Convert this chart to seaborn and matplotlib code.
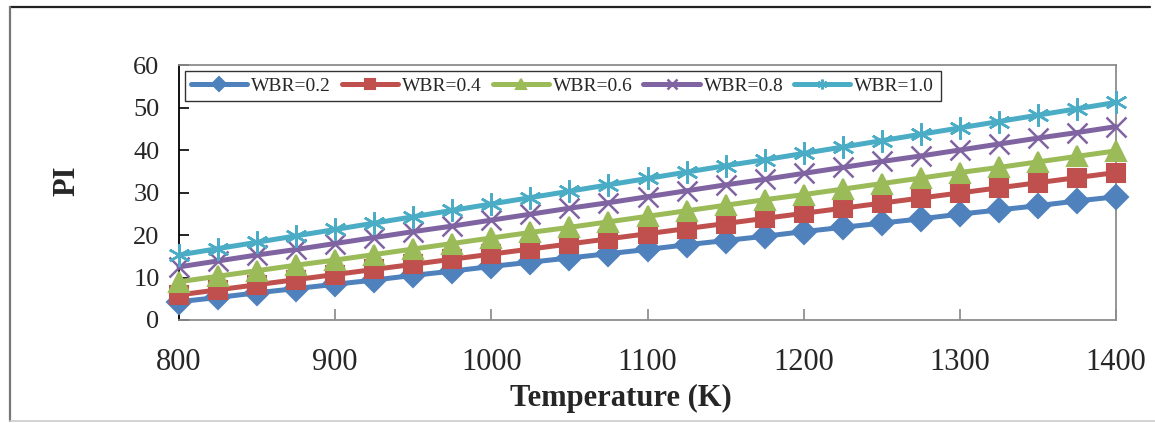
import matplotlib
matplotlib.use("Agg")
import matplotlib.pyplot as plt
from matplotlib.lines import Line2D
import seaborn as sns
import pandas as pd

temperature = [800, 825, 850, 875, 900, 925, 950, 975, 1000, 1025, 1050, 1075, 1100,
               1125, 1150, 1175, 1200, 1225, 1250, 1275, 1300, 1325, 1350, 1375, 1400]
wbr_02 = [4.3, 5.3, 6.4, 7.4, 8.4, 9.4, 10.5, 11.5, 12.6, 13.6, 14.6, 15.6, 16.6,
          17.7, 18.7, 19.7, 20.8, 21.8, 22.8, 23.8, 24.9, 25.9, 26.9, 28.0, 29.0]
wbr_04 = [5.9, 7.1, 8.3, 9.5, 10.7, 11.9, 13.1, 14.3, 15.5, 16.7, 17.9, 19.1, 20.3,
          21.5, 22.7, 23.9, 25.1, 26.3, 27.5, 28.7, 29.9, 31.1, 32.3, 33.5, 34.7]
wbr_06 = [9.0, 10.3, 11.6, 12.9, 14.1, 15.4, 16.7, 18.0, 19.3, 20.6, 21.8, 23.1, 24.4,
          25.7, 27.0, 28.3, 29.5, 30.8, 32.1, 33.4, 34.7, 35.9, 37.2, 38.5, 39.8]
wbr_08 = [12.5, 13.9, 15.3, 16.6, 18.0, 19.4, 20.8, 22.1, 23.5, 24.9, 26.3, 27.6, 29.0,
          30.4, 31.8, 33.1, 34.5, 35.9, 37.3, 38.6, 40.0, 41.4, 42.8, 44.1, 45.5]
wbr_10 = [15.3, 16.8, 18.3, 19.8, 21.3, 22.8, 24.3, 25.8, 27.3, 28.8, 30.3, 31.8, 33.3,
          34.8, 36.3, 37.7, 39.2, 40.7, 42.2, 43.7, 45.2, 46.7, 48.2, 49.7, 51.2]
series_labels = ["WBR=0.2", "WBR=0.4", "WBR=0.6", "WBR=0.8", "WBR=1.0"]
x_ticks = [800, 900, 1000, 1100, 1200, 1300, 1400]
y_ticks = [0, 10, 20, 30, 40, 50, 60]

series_values = [wbr_02, wbr_04, wbr_06, wbr_08, wbr_10]
colors = ["#4F81BD", "#C0504D", "#9BBB59", "#8064A2", "#4BACC6"]
markers = ["D", "s", "^", "x", (6, 2, 0)]
msizes = [12, 13, 14, 14, 16]
mews = [1.5, 1.5, 1.5, 1.8, 1.8]

sns.set_theme(style="white")
plt.rcParams["font.family"] = ["Liberation Serif", "DejaVu Serif"]

fig = plt.figure(figsize=(11.55, 4.23), dpi=100)
ax = fig.add_axes([179 / 1155, 1 - 320 / 423, (1116 - 179) / 1155, (320 - 65) / 423])

for lab, vals, c, m, ms, mew in zip(series_labels, series_values, colors, markers, msizes, mews):
    df = pd.DataFrame({"T": temperature, "PI": vals})
    sns.lineplot(data=df, x="T", y="PI", ax=ax, color=c, linewidth=3.6,
                 marker=m, markersize=ms, markeredgecolor=c, markeredgewidth=mew,
                 label=lab, clip_on=False, zorder=3)

ax.set_xlim(800, 1400)
ax.set_ylim(0, 60)
ax.set_xticks(x_ticks)
ax.set_yticks(y_ticks)
ax.tick_params(axis="x", direction="in", length=8, width=1.2, color="#888888",
               labelsize=22, pad=20, bottom=True)
ax.tick_params(axis="y", direction="in", length=7, width=1.2, color="#000000",
               labelsize=19, pad=14, left=True)
ax.set_xlabel("Temperature (K)", fontsize=22, fontweight="bold")
ax.set_ylabel("PI", fontsize=22, fontweight="bold")
ax.xaxis.set_label_coords(0.472, -0.25)
ax.yaxis.set_label_coords(-0.104, 0.545)

for s in ["top", "right", "bottom"]:
    ax.spines[s].set_color("#8c8c8c")
    ax.spines[s].set_linewidth(1.3)
ax.spines["left"].set_color("#000000")
ax.spines["left"].set_linewidth(1.3)

leg = ax.legend(loc="upper left", bbox_to_anchor=(0.006, 0.978), ncol=5,
                fontsize=14, frameon=True, fancybox=False, edgecolor="#000000",
                handlelength=2.9, handletextpad=0.2, columnspacing=0.55,
                borderpad=0.33, borderaxespad=0)
leg.get_frame().set_linewidth(1.0)
for h in leg.legend_handles:
    h.set_markersize(7)

# outer chart border
fig.add_artist(Line2D([10 / 1155, 1150 / 1155], [1 - 7 / 423, 1 - 7 / 423],
                      transform=fig.transFigure, color="#222222", linewidth=1.6))
fig.add_artist(Line2D([10 / 1155, 10 / 1155], [1 - 7 / 423, 1 - 421 / 423],
                      transform=fig.transFigure, color="#777777", linewidth=1.6))
fig.add_artist(Line2D([10 / 1155, 1155 / 1155], [1 - 421 / 423, 1 - 421 / 423],
                      transform=fig.transFigure, color="#cccccc", linewidth=1.2))

fig.savefig("out.png", dpi=100)
